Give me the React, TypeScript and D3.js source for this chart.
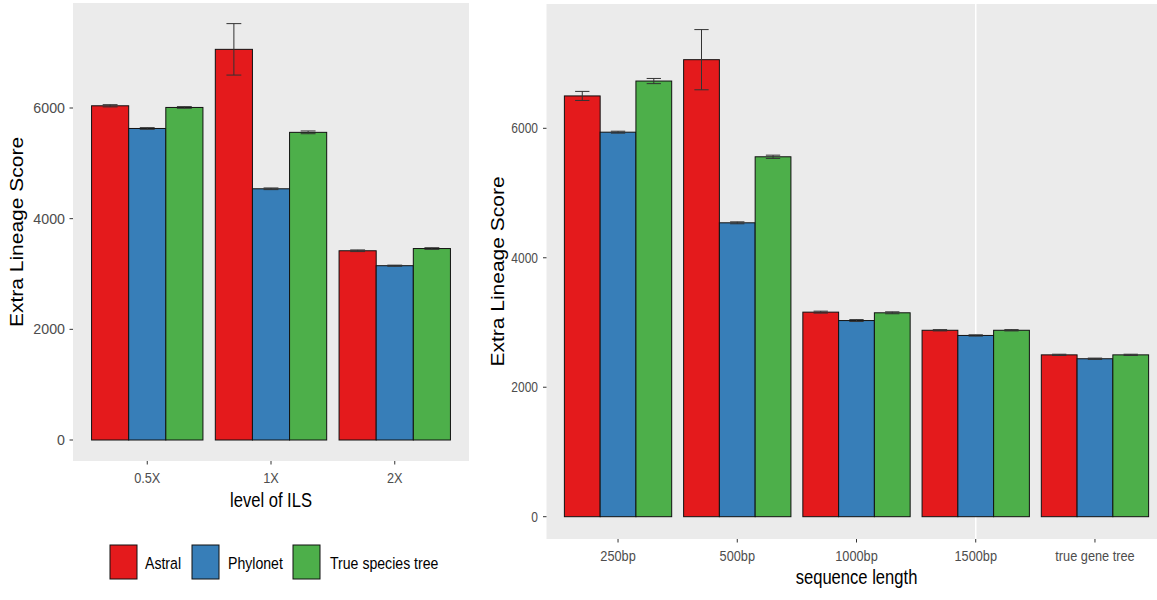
import React from "react";
import * as d3 from "d3";

// ---------- data ----------
const series = ["Astral", "Phylonet", "True species tree"];
const seriesColors = ["#E41A1C", "#377EB8", "#4DAF4A"];

const ilsLevels = ["0.5X", "1X", "2X"];
const ilsAstral = [6040, 7060, 3420];
const ilsPhylonet = [5630, 4540, 3150];
const ilsTrue = [6010, 5560, 3460];
const ilsAstralErr = [20, 465, 15];
const ilsPhylonetErr = [15, 15, 10];
const ilsTrueErr = [15, 25, 15];

const seqLengths = ["250bp", "500bp", "1000bp", "1500bp", "true gene tree"];
const seqAstral = [6500, 7060, 3160, 2880, 2500];
const seqPhylonet = [5940, 4540, 3030, 2800, 2440];
const seqTrue = [6730, 5560, 3150, 2880, 2500];
const seqAstralErr = [70, 465, 15, 10, 10];
const seqPhylonetErr = [15, 15, 15, 10, 10];
const seqTrueErr = [40, 25, 15, 10, 10];
const seqGridCats = ["1500bp"];

const yTicks = [0, 2000, 4000, 6000];

// ---------- helpers ----------
const FONT = "'Liberation Sans', Arial, sans-serif";

function Txt({ x, y, size, anchor = "middle", sx = 0.83, fill = "#000", children }: any) {
  return (
    <text transform={`translate(${x},${y}) scale(${sx},1)`} fontSize={size} fontFamily={FONT} textAnchor={anchor} fill={fill}>
      {children}
    </text>
  );
}

function Panel({ cats, vals, errs, xRange, yRange, panelTop, panelBottom, panelRight, xTitle, xTitleY, tickLabelY, yTitleX, tickLabelX, tickSx, gridCats = [] }: any) {
  const x = d3.scaleBand().domain(cats).range(xRange).paddingInner(0).paddingOuter(0.1);
  const step = x.step();
  const inner = d3.scaleBand().domain(series).range([0, step * 0.9]);
  const y = d3.scaleLinear().domain([0, 6000]).range(yRange);
  const left = xRange[0];
  const right = panelRight;
  const cx = (c: string) => (x(c) as number) + step / 2;
  const capW = inner.bandwidth() * 0.4;

  return (
    <g>
      <rect x={left} y={panelTop} width={right - left} height={panelBottom - panelTop} fill="#EBEBEB" />
      {gridCats.map((c: string) => (
        <line key={c} x1={cx(c)} x2={cx(c)} y1={panelTop} y2={panelBottom} stroke="#fff" strokeWidth={1.5} />
      ))}
      {cats.map((c: string, i: number) => {
        const g0 = cx(c) - step * 0.45;
        return (
          <g key={c}>
            {series.map((s, j) => {
              const v = vals[j][i];
              const bx = g0 + (inner(s) as number);
              return (
                <rect key={s} x={bx} y={y(v)} width={inner.bandwidth()} height={y(0) - y(v)}
                  fill={seriesColors[j]} stroke="#111" strokeWidth={1} />
              );
            })}
            {series.map((s, j) => {
              const v = vals[j][i];
              const e = errs[j][i];
              const ex = g0 + (inner(s) as number) + inner.bandwidth() / 2;
              return (
                <g key={s} stroke="#333" strokeWidth={1}>
                  <line x1={ex} x2={ex} y1={y(v + e)} y2={y(v - e)} />
                  <line x1={ex - capW / 2} x2={ex + capW / 2} y1={y(v + e)} y2={y(v + e)} />
                  <line x1={ex - capW / 2} x2={ex + capW / 2} y1={y(v - e)} y2={y(v - e)} />
                </g>
              );
            })}
          </g>
        );
      })}
      {/* y axis */}
      {yTicks.map((t) => (
        <g key={t}>
          <line x1={left - 3.5} x2={left} y1={y(t)} y2={y(t)} stroke="#333" strokeWidth={1} />
          <Txt x={tickLabelX} y={y(t) + 5} size={15} anchor="end" fill="#4d4d4d" sx={tickSx}>{t}</Txt>
        </g>
      ))}
      {/* x axis */}
      {cats.map((c: string) => (
        <g key={c}>
          <line x1={cx(c)} x2={cx(c)} y1={panelBottom} y2={panelBottom + 3.5} stroke="#333" strokeWidth={1} />
          <Txt x={cx(c)} y={tickLabelY} size={15} fill="#4d4d4d" sx={0.85}>{c}</Txt>
        </g>
      ))}
      <Txt x={(xRange[0] + xRange[1]) / 2} y={xTitleY} size={20}>{xTitle}</Txt>
      <text transform={`translate(${yTitleX},${(panelTop + panelBottom) / 2}) rotate(-90) scale(1,0.85)`}
        fontSize={21} fontFamily={FONT} textAnchor="middle" dominantBaseline="central" fill="#000">
        Extra Lineage Score
      </text>
    </g>
  );
}

export default function App() {
  const legendKeys = [110, 192, 293];
  const legendLabels = [145, 228, 330];
  return (
    <svg width={1157} height={600} style={{ position: "absolute", left: 0, top: 0, background: "#fff" }}>
      <Panel
        cats={ilsLevels}
        vals={[ilsAstral, ilsPhylonet, ilsTrue]}
        errs={[ilsAstralErr, ilsPhylonetErr, ilsTrueErr]}
        xRange={[73, 469]}
        yRange={[440, 108]}
        panelTop={3}
        panelBottom={461}
        panelRight={469}
        xTitle="level of ILS"
        xTitleY={507}
        tickLabelY={483}
        yTitleX={17}
        tickLabelX={65}
        tickSx={0.95}
      />
      <Panel
        cats={seqLengths}
        vals={[seqAstral, seqPhylonet, seqTrue]}
        errs={[seqAstralErr, seqPhylonetErr, seqTrueErr]}
        xRange={[546.5, 1166.5]}
        yRange={[516.7, 128.3]}
        panelTop={4}
        panelBottom={539}
        panelRight={1157}
        xTitle="sequence length"
        xTitleY={584}
        tickLabelY={561}
        yTitleX={498}
        tickLabelX={538}
        tickSx={0.8}
        gridCats={seqGridCats}
      />
      {series.map((s, i) => (
        <g key={s}>
          <rect x={legendKeys[i]} y={545} width={27} height={34} fill={seriesColors[i]} stroke="#111" strokeWidth={1} />
          <Txt x={legendLabels[i]} y={569} size={17} anchor="start">{s}</Txt>
        </g>
      ))}
    </svg>
  );
}
